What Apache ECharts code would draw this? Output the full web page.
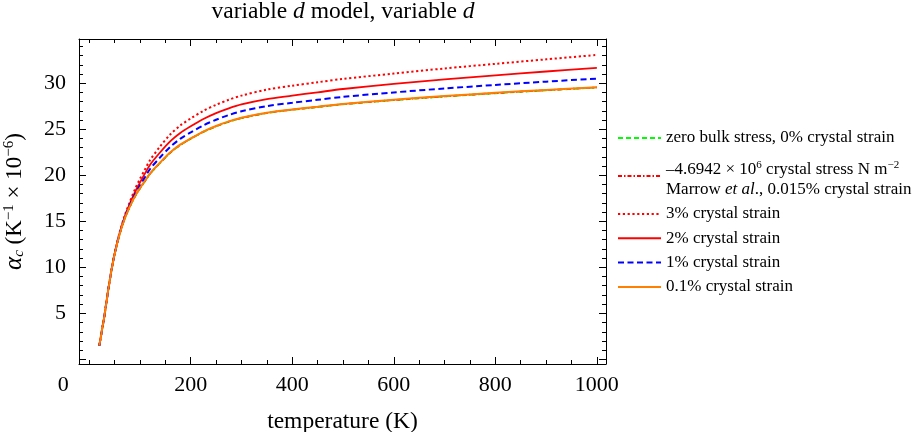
<!DOCTYPE html>
<html><head><meta charset="utf-8">
<script src="https://cdn.jsdelivr.net/npm/echarts@6/dist/echarts.min.js"></script>
<style>html,body{margin:0;padding:0;background:#fff}#c{width:917px;height:432px}</style>
</head><body><div id="c"></div>
<script>
// ---- data ----
const temperatures = [20,25,30,35,40,45,50,60,70,80,90,100,110,120,140,160,180,200,225,250,275,300,350,400,450,500,600,700,800,900,1000];
const zeroBulk = [1.5,3.1,4.7,6.6,8.4,10.0,11.4,13.58,15.27,16.56,17.66,18.56,19.36,20.15,21.35,22.45,23.30,23.95,24.70,25.30,25.80,26.20,26.75,27.10,27.40,27.70,28.15,28.55,28.90,29.22,29.52];
const marrow   = [1.5,3.1,4.7,6.6,8.4,10.0,11.4,13.58,15.28,16.57,17.67,18.57,19.37,20.17,21.37,22.47,23.32,23.97,24.72,25.32,25.82,26.22,26.77,27.12,27.42,27.72,28.17,28.57,28.92,29.24,29.54];
const strain3  = [1.5,3.1,4.7,6.6,8.4,10.0,11.45,13.78,15.62,17.10,18.45,19.60,20.65,21.65,23.15,24.45,25.43,26.17,27.00,27.65,28.20,28.65,29.30,29.73,30.10,30.47,31.05,31.60,32.10,32.59,33.07];
const strain2  = [1.5,3.1,4.7,6.6,8.4,10.0,11.43,13.70,15.50,16.90,18.15,19.20,20.20,21.15,22.50,23.70,24.62,25.32,26.11,26.75,27.27,27.70,28.28,28.65,29.01,29.37,29.92,30.42,30.85,31.27,31.66];
const strain1  = [1.5,3.1,4.7,6.6,8.4,10.0,11.42,13.65,15.40,16.75,17.92,18.90,19.80,20.68,21.96,23.10,23.98,24.65,25.42,26.03,26.54,26.95,27.51,27.87,28.19,28.51,29.00,29.43,29.81,30.17,30.50];
const strain01 = [1.5,3.1,4.7,6.6,8.4,10.0,11.4,13.60,15.30,16.60,17.70,18.60,19.40,20.20,21.40,22.50,23.35,24.00,24.75,25.35,25.85,26.25,26.80,27.15,27.45,27.75,28.20,28.60,28.95,29.27,29.57];
const seriesNames = ['zero','marrow','s3','s2','s1','s01'];
const xTickLabels = [0,200,400,600,800,1000];
const xMajorTicks = [200,400,600,800,1000];
const yTickLabels = [5,10,15,20,25,30];
// ---------------------------------------

const seriesValues = [zeroBulk, marrow, strain3, strain2, strain1, strain01];
const legendText = {
  zero: 'zero bulk stress, 0% crystal strain',
  marrow: '–4.6942 × 10{sup|6} crystal stress N m{sup|−2}\nMarrow {i|et al}., 0.015% crystal strain',
  s3: '3% crystal strain',
  s2: '2% crystal strain',
  s1: '1% crystal strain',
  s01: '0.1% crystal strain'
};
const lineStyles = [
  {color:'#00ff00', type:[5,3], width:1.7},
  {color:'#ff0000', type:[4,2,1.5,2], width:1.7},
  {color:'#ff0000', type:[2.2,2.6], width:2},
  {color:'#ff0000', type:'solid', width:1.8},
  {color:'#0000ff', type:[6,3.5], width:2},
  {color:'#ff8000', type:'solid', width:2}
];

const xMinor = []; for (let v = 0; v <= 1000; v += 50) xMinor.push(v);
const yMinor = []; for (let v = 0; v <= 34; v += 1) yMinor.push(v);
const yMajor = [0,5,10,15,20,25,30];

const FONT = 'Liberation Serif';
const XMIN = -20, XMAX = 1018, YMIN = -0.5, YMAX = 34.8;

function axisBase(extra) {
  return Object.assign({
    type:'value', splitLine:{show:false},
    axisLine:{show:false, onZero:false, lineStyle:{color:'#000', width:1}},
    axisTick:{show:false}, axisLabel:{show:false}
  }, extra);
}

const xAxes = [
  axisBase({position:'bottom', min:XMIN, max:XMAX,
    axisLine:{show:true, onZero:false, lineStyle:{color:'#000', width:1}},
    axisTick:{show:true, inside:true, length:7, customValues:xMajorTicks, lineStyle:{color:'#000', width:1}},
    axisLabel:{show:true, customValues:xTickLabels, margin:10, color:'#000', fontFamily:FONT, fontSize:22,
      formatter: v => v === 0 ? '{z|0}' : String(v),
      rich:{z:{fontFamily:FONT, fontSize:22, color:'#000', padding:[0,52,0,0]}}},
    name:'temperature (K)', nameLocation:'middle', nameGap:46,
    nameTextStyle:{color:'#000', fontFamily:FONT, fontSize:23.5}
  }),
  axisBase({position:'bottom', min:XMIN, max:XMAX,
    axisTick:{show:true, inside:true, length:4, customValues:xMinor, lineStyle:{color:'#000', width:1}}}),
  axisBase({position:'top', min:XMIN, max:XMAX,
    axisLine:{show:true, onZero:false, lineStyle:{color:'#000', width:1}},
    axisTick:{show:true, inside:true, length:7, customValues:xMajorTicks, lineStyle:{color:'#000', width:1}}}),
  axisBase({position:'top', min:XMIN, max:XMAX,
    axisTick:{show:true, inside:true, length:4, customValues:xMinor, lineStyle:{color:'#000', width:1}}})
];
const yAxes = [
  axisBase({position:'left', min:YMIN, max:YMAX,
    axisLine:{show:true, onZero:false, lineStyle:{color:'#000', width:1}},
    axisTick:{show:true, inside:true, length:7, customValues:yMajor, lineStyle:{color:'#000', width:1}},
    axisLabel:{show:true, customValues:yTickLabels, margin:13, color:'#000', fontFamily:FONT, fontSize:22},
    name:'{a|α}{s|c} (K{p|−1} × 10{p|−6})', nameLocation:'middle', nameGap:52, nameRotate:90,
    nameTextStyle:{color:'#000', fontFamily:FONT, fontSize:23,
      rich:{
        a:{fontFamily:FONT, fontSize:25, fontStyle:'italic', color:'#000'},
        s:{fontFamily:FONT, fontSize:15, fontStyle:'italic', color:'#000', padding:[9,0,0,0]},
        p:{fontFamily:FONT, fontSize:15, color:'#000', padding:[0,0,10,0]}
      }}
  }),
  axisBase({position:'left', min:YMIN, max:YMAX,
    axisTick:{show:true, inside:true, length:4, customValues:yMinor, lineStyle:{color:'#000', width:1}}}),
  axisBase({position:'right', min:YMIN, max:YMAX,
    axisLine:{show:true, onZero:false, lineStyle:{color:'#000', width:1}},
    axisTick:{show:true, inside:true, length:7, customValues:yMajor, lineStyle:{color:'#000', width:1}}}),
  axisBase({position:'right', min:YMIN, max:YMAX,
    axisTick:{show:true, inside:true, length:4, customValues:yMinor, lineStyle:{color:'#000', width:1}}})
];

const series = seriesNames.map((n, k) => ({
  name:n, type:'line', xAxisIndex:0, yAxisIndex:0,
  data: temperatures.map((t, i) => [t, seriesValues[k][i]]),
  smooth:0.3, symbol:'none', showSymbol:false,
  lineStyle: lineStyles[k], itemStyle:{color: lineStyles[k].color},
  emphasis:{disabled:true}, animation:false, z: 2 + k
}));

const chart = echarts.init(document.getElementById('c'), null, {renderer:'canvas'});
chart.setOption({
  backgroundColor:'#fff',
  animation:false,
  title:{
    text:'variable {i|d} model, variable {i|d}',
    left:343, top:0, textAlign:'center', padding:0,
    textStyle:{fontFamily:FONT, fontSize:23.5, fontWeight:'normal', color:'#000',
      rich:{i:{fontFamily:FONT, fontSize:23.5, fontStyle:'italic', color:'#000'}}}
  },
  grid:{left:79, top:39, right:311, bottom:68, containLabel:false, outerBoundsMode:'none'},
  xAxis:xAxes, yAxis:yAxes,
  legend:{
    orient:'vertical', left:617, top:128, padding:0,
    itemWidth:43, itemHeight:10, itemGap:4.3,
    itemStyle:{opacity:0},
    data: seriesNames.map(n => n === 'marrow' ? {name:n, textStyle:{padding:[7.4,0,0,0]}} : {name:n}),
    formatter: n => legendText[n],
    selectedMode:false,
    textStyle:{fontFamily:FONT, fontSize:17, color:'#000', lineHeight:20,
      rich:{
        sup:{fontFamily:FONT, fontSize:11, color:'#000', lineHeight:11, verticalAlign:'top'},
        i:{fontFamily:FONT, fontSize:17, fontStyle:'italic', color:'#000', lineHeight:20}
      }}
  },
  series: series
});
</script></body></html>
